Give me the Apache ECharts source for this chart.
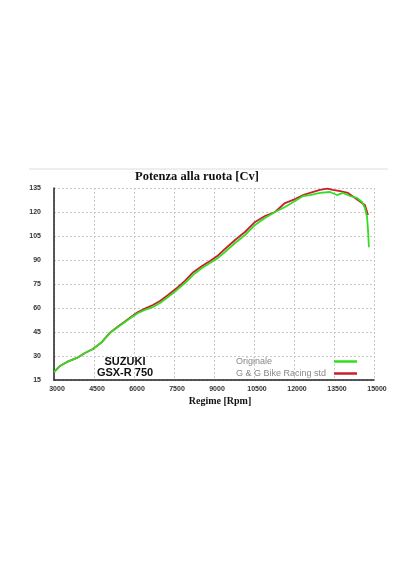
<!DOCTYPE html>
<html>
<head>
<meta charset="utf-8">
<script src="https://cdn.jsdelivr.net/npm/echarts@6/dist/echarts.min.js"></script>
<style>
html,body{margin:0;padding:0;background:#fff;}
#chart{width:416px;height:570px;}
</style>
</head>
<body>
<div id="chart"></div>
<script>
// Data
var xTicks = [3000, 4500, 6000, 7500, 9000, 10500, 12000, 13500, 15000];
var yTicks = [15, 30, 45, 60, 75, 90, 105, 120, 135];

var rpmOrig = [3000, 3225, 3490, 3860, 4160, 4460, 4800, 5100, 5400, 5660, 5925, 6150, 6410, 6710, 6975, 7275, 7610, 7910, 8210, 8550, 8850, 9150, 9410, 9790, 10160, 10540, 10910, 11290, 11660, 12040, 12340, 12600, 12975, 13350, 13610, 13840, 14100, 14360, 14550, 14660, 14740, 14775, 14810];
var cvOrig  = [20, 23.8, 26.3, 28.8, 31.9, 34.4, 38.8, 44.4, 48.1, 51.3, 54.4, 56.9, 58.8, 60.6, 63.1, 66.9, 71.3, 75.6, 80.6, 85, 88.1, 91.3, 95, 100.6, 105.6, 111.9, 116.3, 120, 123.1, 126.9, 130, 130.6, 131.9, 132.5, 130.6, 131.9, 130, 128.8, 126.3, 122.5, 116.9, 108.8, 98];

var rpmGG = [3000, 3225, 3490, 3860, 4160, 4460, 4800, 5100, 5400, 5660, 5925, 6150, 6410, 6710, 6975, 7275, 7610, 7910, 8210, 8550, 8850, 9150, 9410, 9790, 10160, 10540, 10910, 11290, 11660, 12040, 12340, 12600, 12975, 13240, 13460, 13725, 14025, 14290, 14550, 14660, 14775];
var cvGG    = [20, 23.8, 26.3, 28.8, 31.9, 34.4, 38.8, 44.6, 48.4, 51.6, 54.8, 57.5, 59.6, 61.9, 64.4, 68.1, 72.5, 77, 82.2, 86.3, 89.4, 92.8, 96.9, 102.5, 107.5, 113.8, 117.5, 120, 125.6, 128.1, 130.6, 131.9, 133.8, 134.6, 133.8, 133.1, 131.9, 128.8, 125.6, 124.4, 118.1];

var seriesNames = ['Originale', 'G & G Bike Racing std'];

function pairs(xs, ys) { return xs.map(function (x, i) { return [x, ys[i]]; }); }

var chart = echarts.init(document.getElementById('chart'), null, {renderer: 'canvas'});
var option = {
  backgroundColor: '#ffffff',
  animation: false,
  title: {
    text: 'Potenza alla ruota [Cv]',
    left: 135, top: 170,
    padding: 0,
    textStyle: {fontFamily: 'Liberation Serif', fontWeight: 'bold', fontSize: 12.5, color: '#111'}
  },
  legend: {
    orient: 'vertical',
    left: 236, top: 357,
    align: 'right',
    itemGap: 3,
    itemWidth: 23, itemHeight: 2.5,
    icon: 'rect',
    padding: 0,
    data: seriesNames,
    formatter: function (name) { return '{t|' + name + '}'; },
    textStyle: {fontFamily: 'Liberation Sans', fontSize: 9, color: '#888',
      rich: {t: {width: 93, align: 'left', fontFamily: 'Liberation Sans', fontSize: 9, color: '#888'}}}
  },
  grid: {left: 54, right: 42, top: 188, bottom: 190, containLabel: false},
  xAxis: {
    type: 'value', min: 3000, max: 15000, interval: 1500,
    name: 'Regime [Rpm]', nameLocation: 'middle', nameGap: 16,
    nameTextStyle: {fontFamily: 'Liberation Serif', fontWeight: 'bold', fontSize: 10, color: '#111', padding: [0, 0, 0, 12]},
    axisLine: {show: true, lineStyle: {color: '#222', width: 1.5}},
    axisTick: {show: false},
    axisLabel: {fontFamily: 'Liberation Sans', fontWeight: 'bold', fontSize: 7, color: '#333', margin: 6, padding: [0, 0, 0, 6],
      formatter: function (v) { return xTicks.indexOf(v) >= 0 ? String(v) : ''; }},
    splitLine: {show: true, lineStyle: {color: '#c8c8c8', type: [2, 2], width: 1}}
  },
  yAxis: {
    type: 'value', min: 15, max: 135, interval: 15,
    axisLine: {show: true, lineStyle: {color: '#222', width: 1.5}},
    axisTick: {show: false},
    axisLabel: {fontFamily: 'Liberation Sans', fontWeight: 'bold', fontSize: 7, color: '#333', margin: 13,
      formatter: function (v) { return yTicks.indexOf(v) >= 0 ? String(v) : ''; }},
    splitLine: {show: true, lineStyle: {color: '#c8c8c8', type: [2, 2], width: 1}}
  },
  graphic: [
    {type: 'line', shape: {x1: 29, y1: 169, x2: 388, y2: 169}, style: {stroke: '#dcdcdc', lineWidth: 1}},
    {type: 'text', x: 125, y: 362, style: {text: 'SUZUKI', align: 'center', verticalAlign: 'middle',
      font: 'bold 11px "Liberation Sans"', fill: '#111'}},
    {type: 'text', x: 125, y: 373, style: {text: 'GSX-R 750', align: 'center', verticalAlign: 'middle',
      font: 'bold 11px "Liberation Sans"', fill: '#111'}}
  ],
  series: [
    {name: seriesNames[1], type: 'line', data: pairs(rpmGG, cvGG), showSymbol: false, symbol: 'none',
      lineStyle: {color: '#c8202a', width: 1.8}, itemStyle: {color: '#c8202a'}, z: 2},
    {name: seriesNames[0], type: 'line', data: pairs(rpmOrig, cvOrig), showSymbol: false, symbol: 'none',
      lineStyle: {color: '#33dd22', width: 1.8}, itemStyle: {color: '#33dd22'}, z: 3}
  ]
};
chart.setOption(option);
</script>
</body>
</html>
